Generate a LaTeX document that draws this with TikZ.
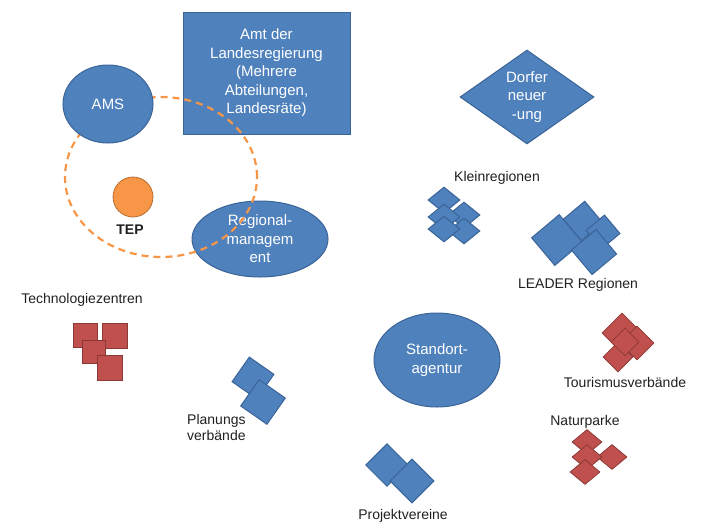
\documentclass[tikz,border=0pt]{standalone}
\usepackage{fontspec}
\setmainfont{Liberation Sans}
\usetikzlibrary{shapes.geometric}
\definecolor{bfill}{HTML}{4F81BD}
\definecolor{bline}{HTML}{3A6497}
\definecolor{rfill}{HTML}{C0504D}
\definecolor{rline}{HTML}{8C3836}
\definecolor{ofill}{HTML}{F79646}
\definecolor{oline}{HTML}{B66D31}
\definecolor{ringcol}{HTML}{F79646}
\definecolor{lbltext}{HTML}{202020}
\pgfdeclarelayer{front}
\pgfsetlayers{main,front}
\begin{document}
\begin{tikzpicture}[x=1pt,y=-1pt,
  bshape/.style={fill=bfill,draw=bline,line width=1pt},
  rshape/.style={fill=rfill,draw=rline,line width=0.8pt},
  wtext/.style={text=white,font=\fontsize{15}{18.5}\selectfont,align=center},
  lbl/.style={font=\fontsize{14}{16}\selectfont,text=lbltext,inner sep=0pt},
  bsq/.style={bshape,rectangle,inner sep=0pt,minimum size=#1},
  rsq/.style={rshape,rectangle,inner sep=0pt,minimum size=#1},
  bdia/.style={bshape,diamond,inner sep=0pt,minimum width=32pt,minimum height=26pt},
  rdia/.style={rshape,diamond,inner sep=0pt,minimum width=#1,minimum height=#1},
  ndia/.style={rshape,diamond,inner sep=0pt,minimum width=30pt,minimum height=25pt},
  ringline/.style={draw=ringcol,line width=2.2pt,dash pattern=on 7pt off 5pt}
]
\useasboundingbox (0,0) rectangle (712,528);

% top-left group
\node[bshape,rectangle,minimum width=167pt,minimum height=122pt,wtext] (amt) at (266.5,73)
  {Amt der\\Landesregierung\\(Mehrere\\Abteilungen,\\Landesräte)};
\node[bshape,ellipse,minimum width=136pt,minimum height=76pt,inner sep=0pt,wtext] (reg) at (260,239)
  {Regional-\\managem\\ent};
\begin{pgfonlayer}{front}
\coordinate (ringc) at (161,177);
\draw[ringline] (ringc) ellipse [x radius=96pt, y radius=80pt];
\node[bshape,ellipse,minimum width=90pt,minimum height=78pt,inner sep=0pt,wtext] (ams) at (108,104) {AMS};
\end{pgfonlayer}
\node[circle,fill=ofill,draw=oline,line width=0.8pt,minimum size=40pt,inner sep=0pt] (tep) at (133,197) {};
\node[font=\fontsize{14}{16}\selectfont\bfseries,text=lbltext,inner sep=0pt] (teplbl) at (130,230) {TEP};

% Dorferneuerung
\node[bshape,diamond,minimum width=134pt,minimum height=94pt,inner sep=0pt,wtext] (dorf) at (527,97)
  {Dorfer\\neuer\\-ung};

% Kleinregionen
\node[lbl] (kleinlbl) at (497,178) {Kleinregionen};
\node[bdia] (k1) at (444,200) {};
\node[bdia] (k3) at (464,215) {};
\node[bdia] (k2) at (444,217) {};
\node[bdia] (k5) at (464,231) {};
\node[bdia] (k4) at (444,229) {};

% LEADER
\node[bsq=28pt,rotate=40] (l1) at (583,221) {};
\node[bsq=24pt,rotate=40] (l2) at (603,232) {};
\node[bsq=36pt,rotate=40] (l3) at (557,240) {};
\node[bsq=32pt,rotate=40] (l4) at (594,252) {};
\node[lbl] (leaderlbl) at (578,285) {LEADER Regionen};

% Tourismusverbaende
\node[rdia=40pt] (t1) at (622,333) {};
\node[rdia=34pt] (t2) at (637,343) {};
\node[rdia=30pt] (t3) at (618,357) {};
\node[rdia=28pt] (t4) at (625,342) {};
\node[lbl] (tourlbl) at (625,382) {Tourismusverbände};

% Naturparke
\node[lbl] (natlbl) at (585,422) {Naturparke};
\node[ndia] (n1) at (587,442) {};
\node[ndia] (n3) at (612,457) {};
\node[ndia] (n2) at (587,457) {};
\node[ndia] (n4) at (585,472) {};

% Technologiezentren
\node[lbl] (techlbl) at (82,300) {Technologiezentren};
\node[rsq=24pt] (s1) at (85,335) {};
\node[rsq=25pt] (s2) at (115,336) {};
\node[rsq=23pt] (s3) at (94,352) {};
\node[rsq=25pt] (s4) at (110,368) {};

% Planungsverbaende
\node[bsq=30pt,rotate=55] (p1) at (253,378) {};
\node[bsq=32pt,rotate=55] (p2) at (263,402) {};
\node[lbl,align=left,anchor=north west,font=\fontsize{14}{16}\selectfont] (planlbl) at (187,414) {Planungs\\verbände};

% Standortagentur
\node[bshape,ellipse,minimum width=126pt,minimum height=94pt,inner sep=0pt,wtext] (std) at (437,360)
  {Standort-\\agentur};

% Projektvereine
\node[bsq=30pt,rotate=45] (pv1) at (387,465) {};
\node[bsq=31pt,rotate=45] (pv2) at (412,481) {};
\node[lbl] (projlbl) at (403,516) {Projektvereine};
\end{tikzpicture}
\end{document}
